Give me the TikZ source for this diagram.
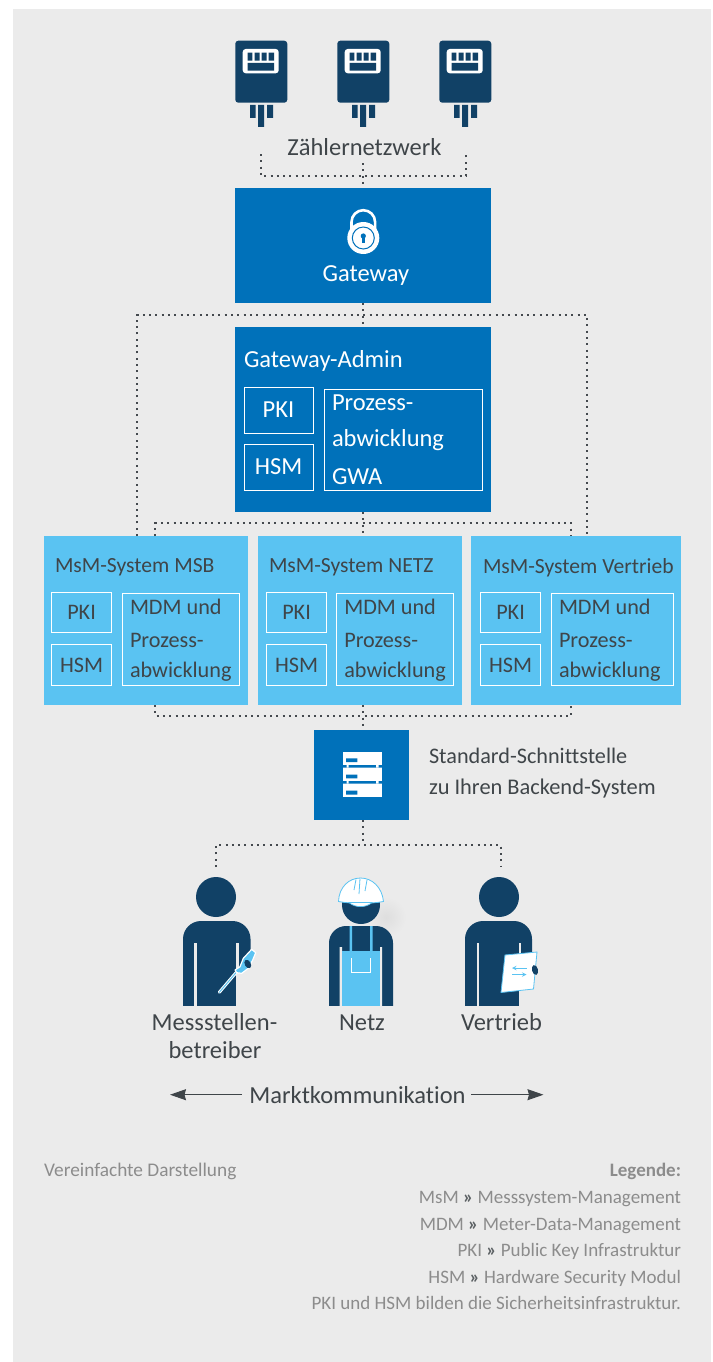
\documentclass[tikz,border=0pt]{standalone}
\usepackage{fontspec}
\usetikzlibrary{arrows.meta}
\setmainfont[Ligatures=NoCommon]{Carlito}
\definecolor{panel}{HTML}{EBEBEB}
\definecolor{navy}{HTML}{114166}
\definecolor{midblue}{HTML}{0071BA}
\definecolor{sky}{HTML}{5AC3F2}
\definecolor{ink}{HTML}{3F4549}
\definecolor{dotc}{HTML}{44494E}
\definecolor{legendc}{HTML}{8C8C8C}
\newcommand{\rarr}{\textcolor{ink!85}{\textbf{»}}}
\tikzset{
  dotline/.style={line width=2pt,dotc,dash pattern=on 2pt off 4.3pt},
  solidbox/.style={inner sep=0pt,outer sep=0pt,anchor=north west},
  inbox/.style={draw=white,line width=1pt,inner sep=0pt,outer sep=0pt,anchor=north west},
  lbl/.style={inner sep=0pt,outer sep=0pt,font=\fontsize{24.5}{27}\selectfont},
  smalllbl/.style={inner sep=0pt,outer sep=0pt,font=\fontsize{22.2}{26}\selectfont,ink},
  titlelbl/.style={inner sep=0pt,outer sep=0pt,font=\fontsize{21.6}{26}\selectfont,ink},
  leg/.style={inner sep=0pt,outer sep=0pt,font=\fontsize{19}{22}\selectfont,legendc,anchor=base east},
  mkarrow/.style={draw=ink,line width=1pt,-{Stealth[length=16pt,width=11pt,inset=1.5pt]}}
}
\newcommand{\meter}[1]{%
  \begin{scope}[shift={(#1,0)}]
    \fill[navy,rounded corners=3pt] (235.3,40.7) rectangle (287.3,102.7);
    \fill[white,rounded corners=3pt] (242.7,49) rectangle (278.7,73.3);
    \fill[navy] (247.7,52.7) rectangle (252.3,60.7) (254.7,52.7) rectangle (259.7,60.7) (261.7,52.7) rectangle (266.7,60.7) (268.7,52.7) rectangle (274,60.7) (247.7,63) rectangle (274,70.7);
    \fill[navy] (250,105) rectangle (255.7,118) (258,105) rectangle (264,127) (267,105) rectangle (273,118);
  \end{scope}}
\begin{document}
\begin{tikzpicture}[x=1pt,y=-1pt]
\useasboundingbox (0,0) rectangle (712,1362);
\fill[white] (0,0) rectangle (712,1362);
\fill[panel] (13,9) rectangle (711,1362);

% meters
\meter{0}\meter{102}\meter{204}
\node[lbl,ink] (zn) at (364.5,147.5) {Zählernetzwerk};

% boxes
\node[solidbox,fill=midblue,minimum width=256pt,minimum height=115pt] (gw) at (235,188) {};
\node[lbl,white] (gwt) at (366,275.5) {Gateway};
\node[solidbox,fill=midblue,minimum width=256pt,minimum height=185pt] (adm) at (235,327) {};
\node[lbl,white,anchor=west] (admt) at (244,361) {Gateway-Admin};
\node[inbox,minimum width=69pt,minimum height=46pt] (apki) at (244,387) {};
\node[lbl,white] at (apki.center) {PKI};
\node[inbox,minimum width=69pt,minimum height=46pt] (ahsm) at (244,444) {};
\node[lbl,white] at (ahsm.center) {HSM};
\node[inbox,minimum width=158pt,minimum height=101pt] (apr) at (324,389) {};
\node[lbl,white,anchor=west] at (332,402.5) {Prozess-};
\node[lbl,white,anchor=west] at (332,440) {abwicklung};
\node[lbl,white,anchor=west] at (332,477) {GWA};

\foreach \nm/\bx/\bw/\px/\mx/\mw/\tx/\ttl in {a/44/204/51.3/122/117/55/{MsM-System MSB},b/258/204/266.3/336.3/117/269/{MsM-System NETZ},c/471/210/480.3/551/122/483/{MsM-System Vertrieb}}{
  \node[solidbox,fill=sky,minimum width=\bw pt,minimum height=169pt] (ms\nm) at (\bx,536) {};
  \node[titlelbl,anchor=west] at (\tx,567.5) {\ttl};
  \node[inbox,minimum width=60.5pt,minimum height=40.5pt] (pk\nm) at (\px,592) {};
  \node[smalllbl] at (pk\nm.center) {PKI};
  \node[inbox,minimum width=60.5pt,minimum height=41.5pt] (hs\nm) at (\px,644) {};
  \node[smalllbl] at ([yshift=-1pt]hs\nm.center) {HSM};
  \node[inbox,minimum width=\mw pt,minimum height=92.5pt] (md\nm) at (\mx,593) {};
  \node[smalllbl,anchor=west] at (\mx+8,607) {MDM und};
  \node[smalllbl,anchor=west] at (\mx+8,640) {Prozess-};
  \node[smalllbl,anchor=west] at (\mx+8,671.5) {abwicklung};
}

\node[solidbox,fill=midblue,minimum width=95pt,minimum height=90pt] (srv) at (314,730) {};
\fill[white] (343,752) rectangle (382,797);
\fill[midblue] (343,765) rectangle (382,767.7) (343,781) rectangle (382,783.7);
\fill[white] (346.5,765) rectangle (348.7,767.7) (376,765) rectangle (378.5,767.7) (346.5,781) rectangle (348.7,783.7) (376,781) rectangle (378.5,783.7);
\fill[midblue] (346,758.3) rectangle (357.3,762) (346,774.7) rectangle (357.3,778.3) (346,790.7) rectangle (357.3,794.7);
\node[smalllbl,anchor=west] (s1) at (429,756) {Standard-Schnittstelle};
\node[smalllbl,anchor=west,font=\fontsize{22.4}{26}\selectfont] (s2) at (429,788.5) {zu Ihren Backend-System};

% lock
\draw[white,line width=2.6pt] (351.5,232) -- (351.5,222) arc[start angle=180,end angle=360,radius=11.8] -- (375.1,232);
\fill[white] (363.3,238) circle (16);
\draw[midblue,line width=1pt] (363.3,238) circle (11);
\fill[midblue] (363.3,236) circle (2.6);
\fill[midblue] (362.1,237) rectangle (364.5,243);

% connectors
\coordinate (cx) at (363,0);
\coordinate (zl) at (261,154); \coordinate (zr) at (466,154);
\coordinate (zc) at (363,163);
\coordinate (zj) at (363,176);
\draw[dotline] (zl) |- (zj) -| (zr);
\draw[dotline] (zc) -- (gw.north);
\coordinate (gwj) at (363,315);
\draw[dotline] (gw.south) -- (adm.north);
\coordinate (gl) at (137,0|-msa.north); \coordinate (gr) at (587,0|-msc.north);
\draw[dotline] (gl) |- (gwj) -| (gr);
\coordinate (aj) at (363,523);
\coordinate (al) at (155,0|-msa.north); \coordinate (ar) at (571,0|-msc.north);
\draw[dotline] (adm.south) -- (cx|-msb.north);
\draw[dotline] (al) |- (aj) -| (ar);
\coordinate (mj) at (363,716);
\coordinate (ml2) at (155,0|-msa.south); \coordinate (mr2) at (571,0|-msc.south);
\draw[dotline] (ml2) |- (mj) -| (mr2);
\draw[dotline] (cx|-msb.south) -- (cx|-srv.north);
\coordinate (pj) at (363,845);
\coordinate (pl) at (216,867); \coordinate (pr) at (501,867);
\draw[dotline] (pl) |- (pj) -| (pr);
\draw[dotline] (cx|-srv.south) -- (pj);

% person 1
\fill[navy] (216,897) circle (20);
\fill[navy,rounded corners=18pt] (183,1030) -- (183,921) -- (250.5,921) -- (250.5,1030) -- cycle;
\fill[panel] (180,1006) rectangle (260,1035);
\fill[panel] (194.2,943) rectangle (196.8,1006);
\fill[panel] (236,943) rectangle (238.7,1006);
\fill[panel] (238.7,970) -- (250.6,958) -- (252,958) -- (252,1006) -- (238.7,1006) -- cycle;
\draw[white,line width=3pt,line cap=round] (219.3,992.3) -- (237,971.5);
\draw[sky,line width=1pt,line cap=round] (219.3,992.3) -- (237,971.5);
\fill[sky,draw=white,line width=1.2pt,line join=round] (235,970) -- (240,966.7) -- (243.3,958.3) -- (251.7,949.3) -- (255.7,952.7) -- (252.7,960) -- (248.3,968.3) -- (241.7,973.3) -- (236.7,972.7) -- cycle;
\fill[navy,rotate around={30:(247.8,964)}] (247.8,964) ellipse[x radius=3,y radius=4.5];

% person 2
\shade[inner color=black!13,outer color=panel] (386,917) circle (20);
\fill[navy] (361,905) circle (19);
\fill[navy,rounded corners=17pt] (329,1030) -- (329,926) -- (393,926) -- (393,1030) -- cycle;
\fill[panel] (325,1006) rectangle (397,1035);
\fill[panel] (339.5,947) rectangle (342,1006) (380,947) rectangle (382,1006);
\fill[sky] (342,951) rectangle (380,1006);
\fill[sky] (349.5,926) rectangle (352,951) (370,926) rectangle (372.5,951);
\draw[white,line width=1pt] (351.5,958) -- (351.5,972.5) -- (370.5,972.5) -- (370.5,958);
\fill[white,draw=sky,line width=.8pt] (338.5,901.5) .. controls (339,887) and (349,878) .. (360.5,878) .. controls (372,878) and (382,887) .. (383.5,901.5) .. controls (370,904) and (352,904) .. (338.5,901.5) -- cycle;
\fill[white,draw=sky,line width=.7pt] (349,902.5) .. controls (355,908) and (366,908) .. (372,902.5) -- cycle;
\draw[sky,line width=.8pt] (354,890) -- (356,879.5) (359,894) -- (360,878.5) (365,891) -- (367,880);

% person 3
\fill[navy] (499,897) circle (20);
\fill[navy,rounded corners=18pt] (465,1030) -- (465,921) -- (532,921) -- (532,1030) -- cycle;
\fill[panel] (460,1006) rectangle (540,1035);
\fill[panel] (476.5,943) rectangle (479,1006);
\fill[panel] (518.5,943) rectangle (521,1006);
\fill[panel] (521,968) rectangle (536,1006);
\fill[white,draw=sky,line width=.8pt] (505,955) -- (537,952) -- (533.5,989) -- (501,992.5) -- cycle;
\draw[sky,line width=1pt,-stealth] (526.5,968) -- (512,968);
\draw[sky,line width=1pt,-stealth] (512,974.5) -- (526.5,974.5);
\fill[navy,rotate around={15:(535,970)}] (535,970) ellipse[x radius=3,y radius=5];

% person labels
\node[lbl,ink] (p1a) at (214.5,1022.5) {Messstellen-};
\node[lbl,ink] (p1b) at (215,1050) {betreiber};
\node[lbl,ink] (p2) at (362,1022.5) {Netz};
\node[lbl,ink] (p3) at (501.5,1022.5) {Vertrieb};

% Marktkommunikation
\node[lbl,ink] (mk) at (357.5,1095) {Marktkommunikation};
\coordinate (ml) at (170,1094.7); \coordinate (mr) at (543.5,1094.7);
\coordinate (mla) at (242,1094.7); \coordinate (mra) at (471,1094.7);
\draw[mkarrow] (mla) -- (ml);
\draw[mkarrow] (mra) -- (mr);

% legend
\node[inner sep=0pt,font=\fontsize{19.3}{22}\selectfont,legendc,anchor=base west] (vd) at (44,1176.5) {Vereinfachte Darstellung};
\node[leg] (l0) at (681,1176.5) {\textbf{Legende:}};
\node[leg] (l1) at (681,1203.5) {MsM \rarr{} Messsystem-Management};
\node[leg] (l2) at (681,1230) {MDM \rarr{} Meter-Data-Management};
\node[leg] (l3) at (681,1256.5) {PKI \rarr{} Public Key Infrastruktur};
\node[leg] (l4) at (681,1283.5) {HSM \rarr{} Hardware Security Modul};
\node[leg] (l5) at (681,1309.5) {PKI und HSM bilden die Sicherheitsinfrastruktur.};
\end{tikzpicture}
\end{document}
